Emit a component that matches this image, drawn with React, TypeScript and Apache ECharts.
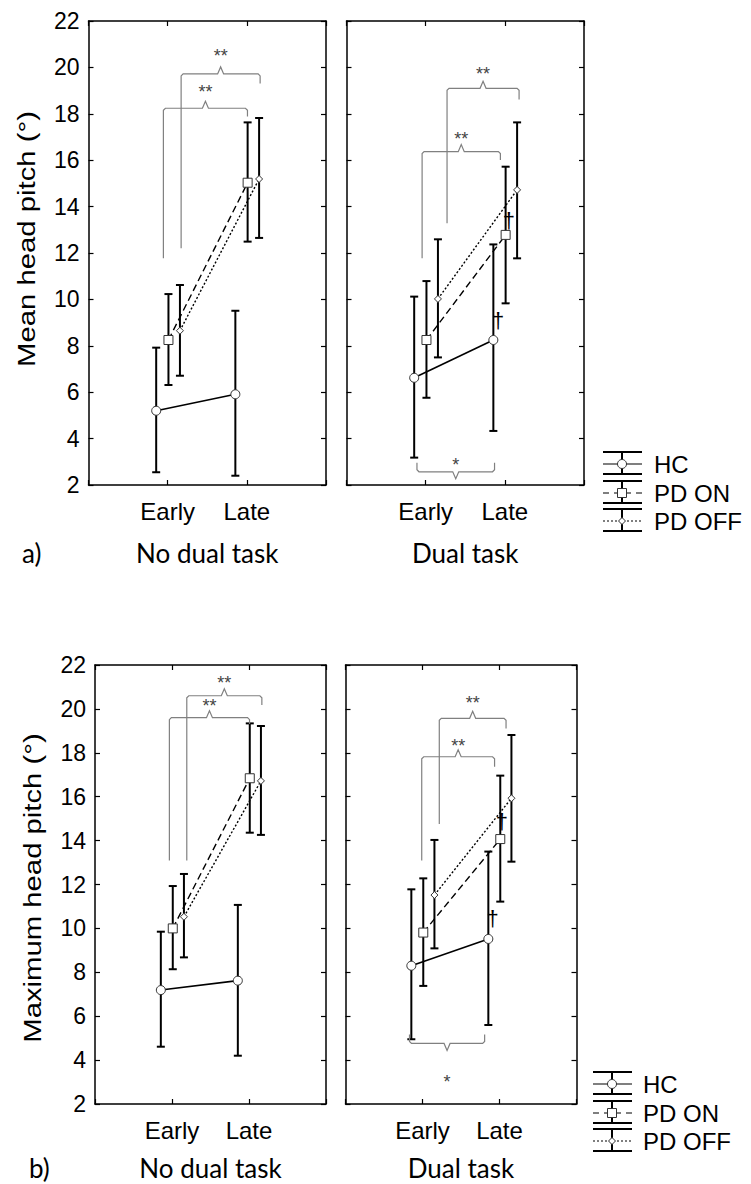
import React, { useEffect, useRef } from "react";
import * as echarts from "echarts";

const PHASES = ["Early", "Late"];
const GROUPS = ["HC", "PD ON", "PD OFF"];
const PANEL_TITLES = ["No dual task", "Dual task"];
const PANEL_LETTERS = ["a)", "b)"];
const Y_TITLES = ["Mean head pitch (°)", "Maximum head pitch (°)"];
const Y_MIN = 2;
const Y_MAX = 22;
const Y_STEP = 2;

// a) Mean head pitch — rows: HC, PD ON, PD OFF; columns: Early, Late
const A_NODUAL_MEAN = [[5.2, 5.91], [8.25, 15.03], [8.65, 15.19]];
const A_NODUAL_LOW = [[2.55, 2.4], [6.31, 12.49], [6.71, 12.65]];
const A_NODUAL_HIGH = [[7.92, 9.51], [10.23, 17.63], [10.62, 17.82]];
const A_DUAL_MEAN = [[6.62, 8.25], [8.25, 12.78], [10.02, 14.72]];
const A_DUAL_LOW = [[3.18, 4.33], [5.76, 9.83], [7.5, 11.77]];
const A_DUAL_HIGH = [[10.12, 12.37], [10.79, 15.72], [12.59, 17.63]];

// b) Maximum head pitch
const B_NODUAL_MEAN = [[7.19, 7.62], [10.0, 16.84], [10.53, 16.72]];
const B_NODUAL_LOW = [[4.61, 4.2], [8.14, 14.36], [8.68, 14.26]];
const B_NODUAL_HIGH = [[9.85, 11.07], [11.93, 19.34], [12.48, 19.22]];
const B_DUAL_MEAN = [[8.3, 9.52], [9.81, 14.07], [11.52, 15.93]];
const B_DUAL_LOW = [[4.95, 5.6], [7.38, 11.22], [9.09, 13.04]];
const B_DUAL_HIGH = [[11.78, 13.5], [12.28, 16.96], [14.03, 18.81]];

// significance brackets: [xLeft, xRight, legLeftY, legRightY, barY, labelY, label]
const A_NODUAL_BRACKETS = [
  [0.946, 2.008, 11.77, 17.88, 18.24, 19.11, "**"],
  [1.17, 2.168, 12.2, 19.31, 19.72, 20.68, "**"],
];
const A_DUAL_BRACKETS = [
  [0.955, 1.944, 11.77, 16.01, 16.37, 17.09, "**"],
  [1.27, 2.18, 13.28, 18.62, 19.1, 19.89, "**"],
  [0.89, 1.87, 2.96, 2.96, 2.57, 3.05, "*"],
];
const B_NODUAL_BRACKETS = [
  [0.966, 2.007, 13.09, 19.31, 19.6, 20.33, "**"],
  [1.192, 2.167, 13.09, 20.18, 20.6, 21.39, "**"],
];
const B_DUAL_BRACKETS = [
  [0.99, 1.936, 13.09, 17.37, 17.82, 18.51, "**"],
  [1.218, 2.085, 14.76, 19.11, 19.57, 20.48, "**"],
  [0.831, 1.807, 5.17, 5.17, 4.76, 3.2, "*"],
];
// dagger marks: [x, y]
const A_DUAL_DAGGERS = [[1.914, 9.11], [2.05, 13.42]];
const B_DUAL_DAGGERS = [[1.91, 10.46], [2.03, 14.86]];

// ---- layout / style ----
const FONT = "Arial, 'Liberation Sans', sans-serif";
const TITLE_FONT = "Lato, 'Open Sans', sans-serif";
const GROUP_OFFSETS = [-0.145, 0.01, 0.155];
const GRIDS = [
  { left: 88.5, top: 21, width: 237.5, height: 464 },
  { left: 346.5, top: 21, width: 237.5, height: 464 },
  { left: 95, top: 665, width: 231, height: 439 },
  { left: 345.5, top: 665, width: 231, height: 439 },
];
const LINE_TYPES: any[] = ["solid", [7, 4], [2, 2]];
const SYMBOLS = ["circle", "rect", "diamond"];
const SYMBOL_SIZES = [9, 9, 7];

const SUBPLOTS = [
  { mean: A_NODUAL_MEAN, low: A_NODUAL_LOW, high: A_NODUAL_HIGH, brackets: A_NODUAL_BRACKETS, daggers: [] as number[][] },
  { mean: A_DUAL_MEAN, low: A_DUAL_LOW, high: A_DUAL_HIGH, brackets: A_DUAL_BRACKETS, daggers: A_DUAL_DAGGERS },
  { mean: B_NODUAL_MEAN, low: B_NODUAL_LOW, high: B_NODUAL_HIGH, brackets: B_NODUAL_BRACKETS, daggers: [] as number[][] },
  { mean: B_DUAL_MEAN, low: B_DUAL_LOW, high: B_DUAL_HIGH, brackets: B_DUAL_BRACKETS, daggers: B_DUAL_DAGGERS },
];

function errRender(params: any, api: any) {
  const x = api.value(0);
  const lo = api.value(1);
  const hi = api.value(2);
  const a = api.coord([x, hi]);
  const b = api.coord([x, lo]);
  const c = 4;
  const st = { stroke: "#000", lineWidth: 2 };
  return {
    type: "group",
    children: [
      { type: "line", shape: { x1: a[0], y1: a[1], x2: b[0], y2: b[1] }, style: st },
      { type: "line", shape: { x1: a[0] - c, y1: a[1], x2: a[0] + c, y2: a[1] }, style: st },
      { type: "line", shape: { x1: b[0] - c, y1: b[1], x2: b[0] + c, y2: b[1] }, style: st },
    ],
  };
}

function bracketRender(brackets: any[]) {
  return (params: any, api: any) => {
    const [xl, xr, yl, yr, yb, ylab, lab] = brackets[params.dataIndex];
    const pL0 = api.coord([xl, yl]);
    const pL1 = api.coord([xl, yb]);
    const pR1 = api.coord([xr, yb]);
    const pR0 = api.coord([xr, yr]);
    const dir = pL0[1] > pL1[1] ? -1 : 1;
    const xc = (pL1[0] + pR1[0]) / 2;
    const by = pL1[1];
    const n = 7;
    const pts = [
      [pL0[0], pL0[1]],
      [pL1[0], by + dir * -2],
      [pL1[0] + 2, by],
      [xc - 3, by],
      [xc, by + dir * n],
      [xc + 3, by],
      [pR1[0] - 2, by],
      [pR1[0], by + dir * -2],
      [pR0[0], pR0[1]],
    ];
    const pLab = api.coord([(xl + xr) / 2, ylab]);
    const fs = 18;
    return {
      type: "group",
      children: [
        { type: "polyline", shape: { points: pts }, style: { stroke: "#808080", lineWidth: 1.2, fill: null } },
        {
          type: "text",
          x: pLab[0],
          y: pLab[1] + fs * 0.23,
          style: {
            text: lab, fontSize: fs, fontFamily: FONT, fill: "#444",
            align: "center", verticalAlign: "middle", textAlign: "center", textVerticalAlign: "middle",
          },
        },
      ],
    };
  };
}

function daggerRender(daggers: number[][]) {
  return (params: any, api: any) => {
    const d = daggers[params.dataIndex];
    const p = api.coord([d[0], d[1]]);
    return {
      type: "text",
      x: p[0],
      y: p[1],
      style: {
        text: "†", fontSize: 22, fontFamily: FONT, fill: "#000",
        align: "center", verticalAlign: "middle", textAlign: "center", textVerticalAlign: "middle",
      },
    };
  };
}

function legendRows(x0: number, x1: number, xc: number, tx: number, ys: number[]) {
  const out: any[] = [];
  ys.forEach((m, i) => {
    const st = { stroke: "#000", lineWidth: 2 };
    out.push({ type: "line", shape: { x1: x0, y1: m - 12, x2: x1, y2: m - 12 }, style: st });
    out.push({ type: "line", shape: { x1: x0, y1: m + 10, x2: x1, y2: m + 10 }, style: st });
    out.push({ type: "line", shape: { x1: xc, y1: m - 12, x2: xc, y2: m + 10 }, style: st });
    const dash = i === 0 ? null : i === 1 ? [6, 5] : [2, 2];
    out.push({ type: "line", shape: { x1: x0, y1: m, x2: x1, y2: m }, style: { stroke: "#000", lineWidth: 1.2, lineDash: dash } });
    const ms = { fill: "#fff", stroke: "#333", lineWidth: 1 };
    if (i === 0) out.push({ type: "circle", shape: { cx: xc, cy: m, r: 4.5 }, style: ms, z: 10 });
    else if (i === 1) out.push({ type: "rect", shape: { x: xc - 4.5, y: m - 4.5, width: 9, height: 9 }, style: ms, z: 10 });
    else out.push({ type: "polygon", shape: { points: [[xc, m - 3.5], [xc + 3.5, m], [xc, m + 3.5], [xc - 3.5, m]] }, style: ms, z: 10 });
    out.push({
      type: "text", x: tx, y: m,
      style: { text: GROUPS[i], fontSize: 24, fontFamily: FONT, fill: "#000", align: "left", verticalAlign: "middle", textAlign: "left", textVerticalAlign: "middle" },
    });
  });
  return out;
}

function buildOption() {
  const grid: any[] = [];
  const xAxis: any[] = [];
  const yAxis: any[] = [];
  const series: any[] = [];
  GRIDS.forEach((g, gi) => {
    grid.push({ ...g });
    const isLeft = gi % 2 === 0;
    const axisLine = { show: true, onZero: false, lineStyle: { color: "#000", width: 1.5 } };
    const axisTick = { show: true, inside: true, length: 5, lineStyle: { color: "#000", width: 1.2 } };
    xAxis.push({
      gridIndex: gi, type: "value", min: 0, max: 3, interval: 1, position: "bottom",
      axisLine, axisTick, splitLine: { show: false },
      axisLabel: {
        show: true, margin: 14, fontSize: 24, color: "#000", fontFamily: FONT,
        formatter: (v: number) => PHASES[v - 1] ?? "",
      },
    });
    xAxis.push({
      gridIndex: gi, type: "value", min: 0, max: 3, interval: 1, position: "top",
      axisLine, axisTick, splitLine: { show: false }, axisLabel: { show: false },
    });
    yAxis.push({
      gridIndex: gi, type: "value", min: Y_MIN, max: Y_MAX, interval: Y_STEP, position: "left",
      axisLine, axisTick, splitLine: { show: false },
      axisLabel: { show: isLeft, margin: 9, fontSize: 23, color: "#000", fontFamily: FONT },
    });
    yAxis.push({
      gridIndex: gi, type: "value", min: Y_MIN, max: Y_MAX, interval: Y_STEP, position: "right",
      axisLine, axisTick, splitLine: { show: false }, axisLabel: { show: false },
    });
    const sp = SUBPLOTS[gi];
    const xi = gi * 2;
    const yi = gi * 2;
    GROUPS.forEach((name, k) => {
      const errData = PHASES.map((_, p) => [p + 1 + GROUP_OFFSETS[k], sp.low[k][p], sp.high[k][p]]);
      series.push({
        type: "custom", name: name + " err", xAxisIndex: xi, yAxisIndex: yi, z: 1,
        renderItem: errRender, data: errData, encode: { x: 0, y: [1, 2] }, silent: true,
      });
    });
    GROUPS.forEach((name, k) => {
      series.push({
        type: "line", name, xAxisIndex: xi, yAxisIndex: yi, z: 3,
        data: PHASES.map((_, p) => [p + 1 + GROUP_OFFSETS[k], sp.mean[k][p]]),
        symbol: SYMBOLS[k], symbolSize: SYMBOL_SIZES[k], showSymbol: true,
        lineStyle: { color: "#000", width: k === 0 ? 1.6 : 1.4, type: LINE_TYPES[k] },
        itemStyle: { color: "#fff", borderColor: "#333", borderWidth: 1 },
      });
    });
    series.push({
      type: "custom", name: "brackets", xAxisIndex: xi, yAxisIndex: yi, z: 2, clip: false,
      renderItem: bracketRender(sp.brackets), data: sp.brackets.map((b) => [b[0], b[4]]), silent: true,
    });
    if (sp.daggers.length) {
      series.push({
        type: "custom", name: "daggers", xAxisIndex: xi, yAxisIndex: yi, z: 4,
        renderItem: daggerRender(sp.daggers), data: sp.daggers.map((d) => [d[0], d[1]]), silent: true,
      });
    }
  });

  const txt = (text: string, x: number, y: number, fontSize: number, family: string, align = "center", extra: any = {}) => ({
    type: "text", x, y, ...extra,
    style: { text, fontSize, fontFamily: family, fill: "#000", align, verticalAlign: "middle", textAlign: align, textVerticalAlign: "middle" },
  });

  const graphic: any[] = [
    txt(Y_TITLES[0], 27, 239, 24, FONT, "center", { rotation: Math.PI / 2, scaleX: 1.22 }),
    txt(Y_TITLES[1], 33, 888, 24, FONT, "center", { rotation: Math.PI / 2, scaleX: 1.22 }),
    txt(PANEL_LETTERS[0], 22, 553, 26, TITLE_FONT, "left"),
    txt(PANEL_LETTERS[1], 29, 1168, 26, TITLE_FONT, "left"),
    txt(PANEL_TITLES[0], GRIDS[0].left + GRIDS[0].width / 2, 553, 26, TITLE_FONT),
    txt(PANEL_TITLES[1], GRIDS[1].left + GRIDS[1].width / 2, 553, 26, TITLE_FONT),
    txt(PANEL_TITLES[0], GRIDS[2].left + GRIDS[2].width / 2, 1168, 26, TITLE_FONT),
    txt(PANEL_TITLES[1], GRIDS[3].left + GRIDS[3].width / 2, 1168, 26, TITLE_FONT),
    ...legendRows(603, 642, 622, 654, [464, 493, 521]),
    ...legendRows(593, 632, 612, 643, [1084, 1113, 1141]),
  ];

  return { animation: false, backgroundColor: "#fff", grid, xAxis, yAxis, series, graphic };
}

export default function App() {
  const ref = useRef<HTMLDivElement>(null);
  useEffect(() => {
    if (!ref.current) return;
    const chart = echarts.init(ref.current, null, { renderer: "svg" });
    chart.setOption(buildOption() as any);
    return () => chart.dispose();
  }, []);
  return <div ref={ref} style={{ position: "absolute", left: 0, top: 0, width: 751, height: 1184, background: "#fff" }} />;
}
